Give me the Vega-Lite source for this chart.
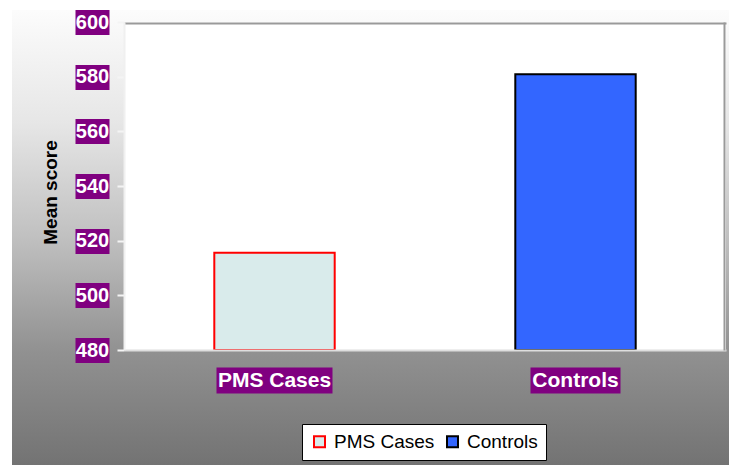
{
  "$schema": "https://vega.github.io/schema/vega-lite/v6.json",
  "width": 717,
  "height": 455,
  "autosize": {"type": "none"},
  "padding": {"left": 12, "top": 10, "right": 0, "bottom": 0},
  "background": "white",
  "view": {
    "stroke": null,
    "fill": {
      "gradient": "linear",
      "x1": 0, "y1": 0, "x2": 0, "y2": 1,
      "stops": [
        {"offset": 0, "color": "#fcfcfc"},
        {"offset": 0.25, "color": "#e6e6e6"},
        {"offset": 0.5, "color": "#c0c0c0"},
        {"offset": 0.75, "color": "#919191"},
        {"offset": 1, "color": "#737373"}
      ]
    }
  },
  "config": {
    "axis": {"grid": false},
    "font": "Liberation Sans",
    "legend": {
      "orient": "none", "legendX": 290, "legendY": 414, "direction": "horizontal",
      "fillColor": "white", "strokeColor": "black", "padding": 8,
      "symbolType": "square", "symbolSize": 121, "symbolStrokeWidth": 2,
      "labelFont": "Liberation Sans", "labelFontSize": 19, "labelColor": "black",
      "labelOffset": 5, "columnPadding": 8, "zindex": 1
    }
  },
  "resolve": {"axis": {"x": "independent", "y": "independent"}},
  "layer": [
    {
      "data": {"values": [{"group": "PMS Cases"}, {"group": "Controls"}]},
      "mark": {"type": "rect", "fill": "white"},
      "encoding": {
        "x": {
          "field": "group", "type": "nominal", "sort": null,
          "scale": {"domain": ["PMS Cases", "Controls"], "range": [112, 714], "paddingInner": 0, "paddingOuter": 0},
          "axis": {"orient": "top", "offset": -13, "domainColor": "#9a9a9a", "domainWidth": 2, "ticks": false, "labels": false, "title": null, "zindex": 1}
        },
        "y": {
          "datum": 480, "type": "quantitative",
          "scale": {"domain": [480, 600], "range": [340, 12], "nice": false, "zero": false},
          "axis": {"orient": "right", "offset": -5, "domainColor": "#9a9a9a", "domainWidth": 2, "ticks": false, "labels": false, "title": null, "zindex": 1}
        },
        "y2": {"datum": 600}
      }
    },
    {
      "data": {"values": [{"group": "PMS Cases"}, {"group": "Controls"}]},
      "mark": {"type": "rect", "fill": "white", "fillOpacity": 0},
      "encoding": {
        "x": {
          "field": "group", "type": "nominal", "sort": null,
          "scale": {"domain": ["PMS Cases", "Controls"], "range": [112, 714], "paddingInner": 0, "paddingOuter": 0},
          "axis": {"orient": "bottom", "offset": -115, "domainColor": "#dedede", "domainWidth": 2, "ticks": false, "labels": false, "title": null, "zindex": 1}
        },
        "y": {
          "datum": 480, "type": "quantitative",
          "scale": {"domain": [480, 600], "range": [340, 12], "nice": false, "zero": false},
          "axis": {"orient": "left", "offset": -112, "domainColor": "#f0f0f0", "domainWidth": 2, "values": [480, 500, 520, 540, 560, 580, 600], "tickColor": "#f4f4f4", "tickSize": 7, "tickWidth": 2, "labels": false, "title": null, "zindex": 1}
        },
        "y2": {"datum": 600}
      }
    },
    {
      "data": {"values": [
        {"group": "PMS Cases", "score": 515.6},
        {"group": "Controls", "score": 580.9}
      ]},
      "mark": {"type": "bar", "width": {"band": 0.4}, "strokeWidth": 2},
      "encoding": {
        "x": {
          "field": "group", "type": "nominal", "sort": null,
          "scale": {"domain": ["PMS Cases", "Controls"], "range": [112, 714], "paddingInner": 0, "paddingOuter": 0},
          "axis": {
            "orient": "bottom", "offset": -98, "domain": false,
            "tickColor": "#800080", "tickSize": 26,
            "tickWidth": {"condition": {"test": "datum.value === 'PMS Cases'", "value": 116}, "value": 90},
            "labelColor": "white", "labelFont": "Liberation Sans", "labelFontWeight": "bold", "labelFontSize": 21,
            "labelBaseline": "middle", "labelPadding": -13, "labelAngle": 0, "title": null, "zindex": 1
          }
        },
        "y": {
          "field": "score", "type": "quantitative",
          "scale": {"domain": [480, 600], "range": [340, 12], "nice": false, "zero": false},
          "axis": {
            "orient": "left", "offset": -97, "domain": false,
            "values": [480, 500, 520, 540, 560, 580, 600],
            "tickColor": "#800080", "tickSize": 34, "tickWidth": 25,
            "labelColor": "white", "labelFont": "Liberation Sans", "labelFontWeight": "bold", "labelFontSize": 20,
            "labelAlign": "center", "labelPadding": -17,
            "title": "Mean score", "titleFont": "Liberation Sans", "titleFontSize": 19, "titleFontWeight": "bold", "titleColor": "black",
            "titleX": -59, "titleY": 182, "titleBaseline": "middle", "titleAlign": "center", "zindex": 1
          }
        },
        "y2": {"datum": 480},
        "fill": {
          "field": "group", "type": "nominal", "sort": null,
          "scale": {"domain": ["PMS Cases", "Controls"], "range": ["#d9ebeb", "#3366ff"]},
          "legend": {"title": null}
        },
        "stroke": {
          "field": "group", "type": "nominal", "sort": null,
          "scale": {"domain": ["PMS Cases", "Controls"], "range": ["#ff0000", "#000000"]},
          "legend": {"title": null}
        }
      }
    }
  ]
}
